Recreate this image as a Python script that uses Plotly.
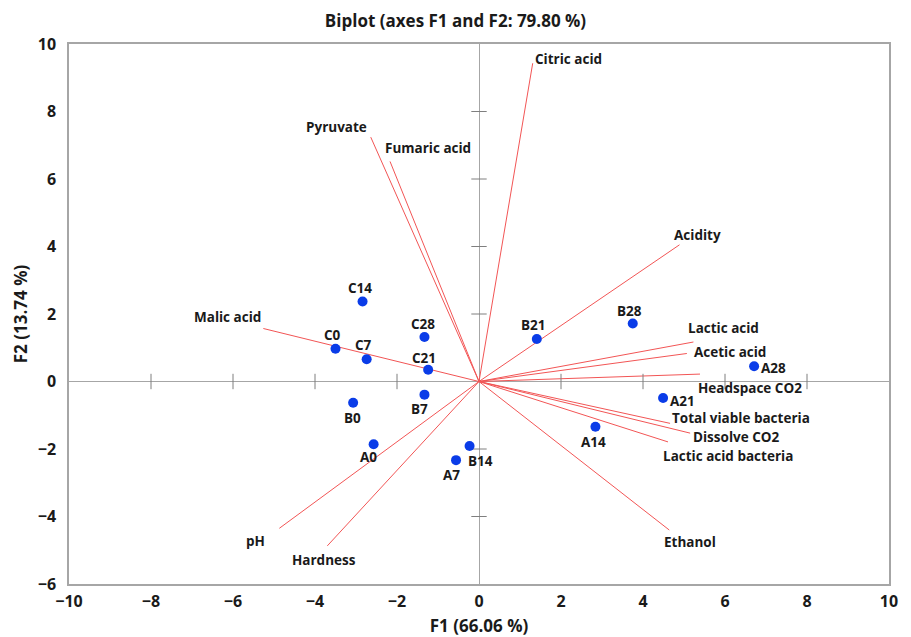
import plotly.graph_objects as go

# ---- Observations (F1, F2 scores) ----
obs_names = ["C0", "C7", "C14", "C21", "C28",
             "B0", "B7", "B14", "B21", "B28",
             "A0", "A7", "A14", "A21", "A28"]
obs_f1 = [-3.50, -2.74, -2.84, -1.24, -1.33,
          -3.07, -1.33, -0.23, 1.41, 3.75,
          -2.57, -0.56, 2.84, 4.49, 6.71]
obs_f2 = [0.97, 0.66, 2.37, 0.35, 1.32,
          -0.63, -0.39, -1.91, 1.26, 1.72,
          -1.86, -2.33, -1.34, -0.49, 0.45]

# ---- Variables (loading vector end points) ----
var_names = ["Citric acid", "Pyruvate", "Fumaric acid", "Acidity", "Lactic acid",
             "Acetic acid", "Headspace CO2", "Total viable bacteria", "Dissolve CO2",
             "Lactic acid bacteria", "Ethanol", "pH", "Hardness", "Malic acid"]
var_f1 = [1.31, -2.64, -2.17, 4.89, 5.23,
          5.07, 5.39, 4.66, 5.15,
          4.61, 4.64, -4.87, -3.70, -5.26]
var_f2 = [9.43, 7.24, 6.52, 4.05, 1.17,
          0.83, 0.22, -1.24, -1.53,
          -1.79, -4.40, -4.35, -4.87, 1.57]

x_ticks = [-10, -8, -6, -4, -2, 0, 2, 4, 6, 8, 10]
y_ticks = [-6, -4, -2, 0, 2, 4, 6, 8, 10]

title_text = "Biplot (axes F1 and F2: 79.80 %)"
x_title = "F1 (66.06 %)"
y_title = "F2 (13.74 %)"

# ---- label placement (styling only) ----
var_label_pos = {
    "Citric acid": ("left", 0, 4),
    "Pyruvate": ("right", -2, 10),
    "Fumaric acid": ("left", -7, 13),
    "Acidity": ("left", -7, 10),
    "Lactic acid": ("left", -7, 14),
    "Acetic acid": ("left", 5, 1),
    "Headspace CO2": ("left", -4, -14),
    "Total viable bacteria": ("left", 0, 5),
    "Dissolve CO2": ("left", 1, -4),
    "Lactic acid bacteria": ("left", -7, -14),
    "Ethanol": ("left", -7, -12),
    "pH": ("right", -12, -13),
    "Hardness": ("center", -3, -14),
    "Malic acid": ("right", 0, 12),
}
obs_label_pos = {
    "C0": ("center", -3, 14), "C7": ("center", -3, 14), "C14": ("center", -3, 14),
    "C21": ("center", -4, 12), "C28": ("center", -1, 13),
    "B0": ("center", -1, -15), "B7": ("center", -5, -14), "B14": ("left", -4, -15),
    "B21": ("center", -3, 14), "B28": ("center", -3, 12),
    "A0": ("center", -5, -13), "A7": ("center", -5, -15), "A14": ("center", -2, -15),
    "A21": ("left", 5, -3), "A28": ("left", 5, -2),
}

FONT = "'Open Sans', sans-serif"
TXT = "#1a1a1a"
AXIS_GREY = "#a6a6a6"
RED = "#f25555"
BLUE = "#0a3ce8"

fig = go.Figure()

# Loading vectors
for name, vx, vy in zip(var_names, var_f1, var_f2):
    fig.add_trace(go.Scatter(x=[0, vx], y=[0, vy], mode="lines",
                             line=dict(color=RED, width=1),
                             hoverinfo="skip", showlegend=False))

# Interior zero-line tick marks
xt_in = [t for t in x_ticks if t not in (0, -10, 10)]
yt_in = [t for t in y_ticks if t not in (0, -6, 10)]
fig.add_trace(go.Scatter(x=xt_in, y=[0] * len(xt_in), mode="markers",
                         marker=dict(symbol="line-ns-open", size=11, color="#7f7f7f",
                                     line=dict(color="#7f7f7f", width=1)),
                         hoverinfo="skip", showlegend=False))
fig.add_trace(go.Scatter(x=[0] * len(yt_in), y=yt_in, mode="markers",
                         marker=dict(symbol="line-ew-open", size=11, color="#7f7f7f",
                                     line=dict(color="#7f7f7f", width=1)),
                         hoverinfo="skip", showlegend=False))

# Observations
fig.add_trace(go.Scatter(x=obs_f1, y=obs_f2, mode="markers",
                         marker=dict(color=BLUE, size=10),
                         text=obs_names, hoverinfo="text", showlegend=False))

LBL = 13.5
annotations = []
for name, vx, vy in zip(var_names, var_f1, var_f2):
    anc, dx, dy = var_label_pos[name]
    annotations.append(dict(x=vx, y=vy, text=name, showarrow=False,
                            xanchor=anc, yanchor="middle", xshift=dx, yshift=dy,
                            font=dict(family=FONT, size=LBL, color=TXT, weight="bold")))
for name, ox, oy in zip(obs_names, obs_f1, obs_f2):
    anc, dx, dy = obs_label_pos[name]
    annotations.append(dict(x=ox, y=oy, text=name, showarrow=False,
                            xanchor=anc, yanchor="middle", xshift=dx, yshift=dy,
                            font=dict(family=FONT, size=LBL, color=TXT, weight="bold")))

fig.update_layout(
    width=911, height=637,
    margin=dict(l=69, r=22, t=44, b=53),
    paper_bgcolor="white", plot_bgcolor="white",
    title=dict(text="<b>" + title_text + "</b>", x=0.5, xanchor="center",
               y=0.967, yanchor="middle",
               font=dict(family=FONT, size=17, color=TXT)),
    annotations=annotations,
    xaxis=dict(range=[-10, 10], tickmode="array", tickvals=x_ticks,
               ticktext=[("−" + str(-t)) if t < 0 else str(t) for t in x_ticks],
               showgrid=False, zeroline=True, zerolinecolor=AXIS_GREY, zerolinewidth=1,
               showline=True, linecolor=AXIS_GREY, linewidth=1.5, mirror=True,
               ticks="", ticklabelstandoff=2, automargin=False,
               tickfont=dict(family=FONT, size=16, color=TXT, weight="bold"),
               title=dict(text="<b>" + x_title + "</b>", standoff=10,
                          font=dict(family=FONT, size=17, color=TXT))),
    yaxis=dict(range=[-6, 10], tickmode="array", tickvals=y_ticks,
               ticktext=[("−" + str(-t)) if t < 0 else str(t) for t in y_ticks],
               showgrid=False, zeroline=True, zerolinecolor=AXIS_GREY, zerolinewidth=1,
               showline=True, linecolor=AXIS_GREY, linewidth=1.5, mirror=True,
               ticks="", ticklabelstandoff=8, automargin=False,
               tickfont=dict(family=FONT, size=16, color=TXT, weight="bold"),
               title=dict(text="<b>" + y_title + "</b>", standoff=6,
                          font=dict(family=FONT, size=17, color=TXT))),
)

fig.write_html("out.html", config={"displayModeBar": False},
               post_script="document.body.style.margin='0';")
